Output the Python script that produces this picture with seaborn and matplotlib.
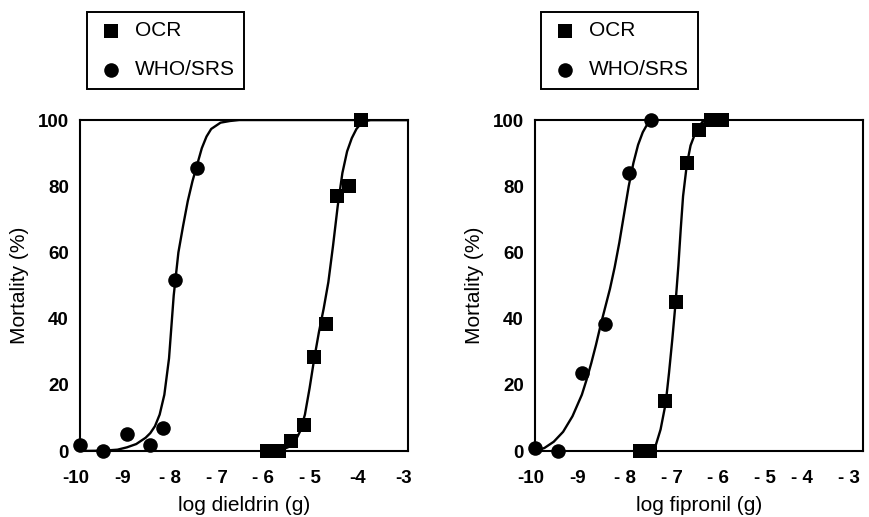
import matplotlib
matplotlib.use("Agg")
import matplotlib.pyplot as plt
import matplotlib.transforms as mtransforms
import seaborn as sns
import pandas as pd

# ---- dieldrin bioassay: observed mortality ----
dieldrin_ocr_dose = [-6.0, -5.75, -5.5, -5.22, -5.0, -4.76, -4.52, -4.26, -4.0]
dieldrin_ocr_mort = [0, 0, 3, 8, 28.5, 38.5, 77, 80, 100]
dieldrin_who_dose = [-10.0, -9.5, -9.0, -8.5, -8.23, -7.98, -7.5]
dieldrin_who_mort = [1.8, 0, 5, 1.8, 6.9, 51.7, 85.5]

# fitted dose-response curves (dieldrin)
dieldrin_ocr_fit_x = [-6.0, -5.7, -5.5, -5.4, -5.3, -5.2, -5.1, -5.0, -4.9, -4.8,
                      -4.7, -4.6, -4.5, -4.4, -4.3, -4.2, -4.1, -4.0, -3.9, -3.8, -3.0]
dieldrin_ocr_fit_y = [0, 0.3, 1.5, 3.2, 6, 11, 19, 28, 36, 43,
                      51, 62, 74, 84, 90.5, 94.5, 97.3, 99, 99.7, 100, 100]
dieldrin_who_fit_x = [-10.0, -9.5, -9.2, -9.0, -8.8, -8.6, -8.5, -8.4, -8.3, -8.2,
                      -8.1, -8.0, -7.9, -7.8, -7.7, -7.6, -7.5, -7.4, -7.3, -7.2,
                      -7.0, -6.8, -6.6, -3.0]
dieldrin_who_fit_y = [0, 0.1, 0.4, 1.1, 2.1, 4.0, 5.4, 7.5, 11, 17,
                      28, 47, 60, 68, 75.5, 81.5, 86.5, 91.5, 95, 97.3,
                      99.2, 99.7, 100, 100]

# ---- fipronil bioassay: observed mortality ----
fipronil_ocr_dose = [-7.75, -7.55, -7.22, -7.0, -6.75, -6.5, -6.25, -6.0]
fipronil_ocr_mort = [0, 0, 15, 45, 87, 97, 100, 100]
fipronil_who_dose = [-10.0, -9.5, -9.0, -8.5, -8.0, -7.52]
fipronil_who_mort = [1, 0, 23.5, 38.5, 84, 100]

# fitted dose-response curves (fipronil)
fipronil_ocr_fit_x = [-7.5, -7.43, -7.32, -7.21, -7.14, -7.07, -7.0, -6.94, -6.89,
                      -6.84, -6.76, -6.68, -6.57, -6.43, -6.29]
fipronil_ocr_fit_y = [0, 1.4, 6.5, 14.5, 23.6, 33.7, 44.8, 56, 67,
                      77, 86.5, 92.3, 96.4, 99.4, 100]
fipronil_who_fit_x = [-10.0, -9.8, -9.6, -9.4, -9.2, -9.0, -8.9, -8.8, -8.7, -8.6,
                      -8.5, -8.4, -8.3, -8.2, -8.1, -8.0, -7.9, -7.8, -7.7, -7.6, -7.52]
fipronil_who_fit_y = [0, 0.9, 2.8, 5.8, 10.5, 17, 21.5, 26.5, 32, 38,
                      43.5, 49, 55.5, 63, 71.5, 80, 87, 92.5, 96.3, 98.8, 100]

x_ticks = [-10, -9, -8, -7, -6, -5, -4, -3]
dieldrin_tick_labels = ["-10", "-9", "- 8", "- 7", "- 6", "- 5", "-4", "-3"]
fipronil_tick_labels = ["-10", "-9", "- 8", "- 7", "- 6", "- 5", "- 4", "- 3"]
y_ticks = [0, 20, 40, 60, 80, 100]

sns.set_theme(style="white")
plt.rcParams["font.family"] = ["Liberation Sans", "DejaVu Sans"]

W, H = 869, 517
fig = plt.figure(figsize=(W / 100, H / 100), dpi=100)
fig.patch.set_facecolor("white")

ax_left = fig.add_axes([80 / W, 1 - 451 / H, 328 / W, 331 / H])
ax_right = fig.add_axes([535 / W, 1 - 451 / H, 328 / W, 331 / H])


def shift_label(label, dx_px):
    label.set_transform(label.get_transform() +
                        mtransforms.ScaledTranslation(dx_px / 100, 0,
                                                      fig.dpi_scale_trans))


def draw_panel(ax, ocr_x, ocr_y, who_x, who_y, fit_ocr_x, fit_ocr_y,
               fit_who_x, fit_who_y, xlabel, tick_labels, legend_left):
    curves = [(fit_ocr_x, fit_ocr_y), (fit_who_x, fit_who_y)]
    for cx, cy in curves:
        sns.lineplot(x=cx, y=cy, ax=ax, color="black", linewidth=1.7,
                     sort=False, estimator=None, legend=False, zorder=2)
    ocr = pd.DataFrame({"dose": ocr_x, "mortality": ocr_y})
    who = pd.DataFrame({"dose": who_x, "mortality": who_y})
    sns.scatterplot(data=ocr, x="dose", y="mortality", ax=ax, marker="s",
                    color="black", s=100, linewidth=0, label="OCR",
                    clip_on=False, zorder=3)
    sns.scatterplot(data=who, x="dose", y="mortality", ax=ax, marker="o",
                    color="black", s=110, linewidth=0, label="WHO/SRS",
                    clip_on=False, zorder=3)

    ax.set_xlim(-10, -3)
    ax.set_ylim(0, 100)
    ax.set_xticks(x_ticks)
    ax.set_xticklabels(tick_labels)
    ax.set_yticks(y_ticks)
    ax.set_xlabel(xlabel, fontsize=15, color="black", labelpad=6)
    ax.set_ylabel("Mortality (%)", fontsize=15, color="black", labelpad=6)
    ax.tick_params(axis="both", direction="in", length=6.5, width=1.3,
                   color="black", labelsize=13.5, labelcolor="black")
    ax.tick_params(axis="x", pad=14)
    ax.tick_params(axis="y", pad=8)
    for lab in ax.get_xticklabels() + ax.get_yticklabels():
        lab.set_fontweight("bold")
    for lab in ax.get_xticklabels():
        shift_label(lab, -4)
    for sp in ax.spines.values():
        sp.set_visible(True)
        sp.set_color("black")
        sp.set_linewidth(1.5)
    ax.set_facecolor("white")

    leg = ax.legend(loc="upper left",
                    bbox_to_anchor=(legend_left / W, 1 - 12 / H),
                    bbox_transform=fig.transFigure, borderaxespad=0,
                    fontsize=15, frameon=True, fancybox=False,
                    borderpad=0.45, labelspacing=0.95, handlelength=1.4,
                    handletextpad=0.45, markerscale=1.0)
    frame = leg.get_frame()
    frame.set_edgecolor("black")
    frame.set_linewidth(1.4)
    frame.set_facecolor("white")
    frame.set_alpha(1)
    for t in leg.get_texts():
        t.set_color("black")


draw_panel(ax_left, dieldrin_ocr_dose, dieldrin_ocr_mort,
           dieldrin_who_dose, dieldrin_who_mort,
           dieldrin_ocr_fit_x, dieldrin_ocr_fit_y,
           dieldrin_who_fit_x, dieldrin_who_fit_y,
           "log dieldrin (g)", dieldrin_tick_labels, 87)
draw_panel(ax_right, fipronil_ocr_dose, fipronil_ocr_mort,
           fipronil_who_dose, fipronil_who_mort,
           fipronil_ocr_fit_x, fipronil_ocr_fit_y,
           fipronil_who_fit_x, fipronil_who_fit_y,
           "log fipronil (g)", fipronil_tick_labels, 541)

# the last two fipronil labels sit further left of their ticks
for lab in ax_right.get_xticklabels()[-2:]:
    shift_label(lab, -10)

fig.savefig("out.png", dpi=100, facecolor="white")
